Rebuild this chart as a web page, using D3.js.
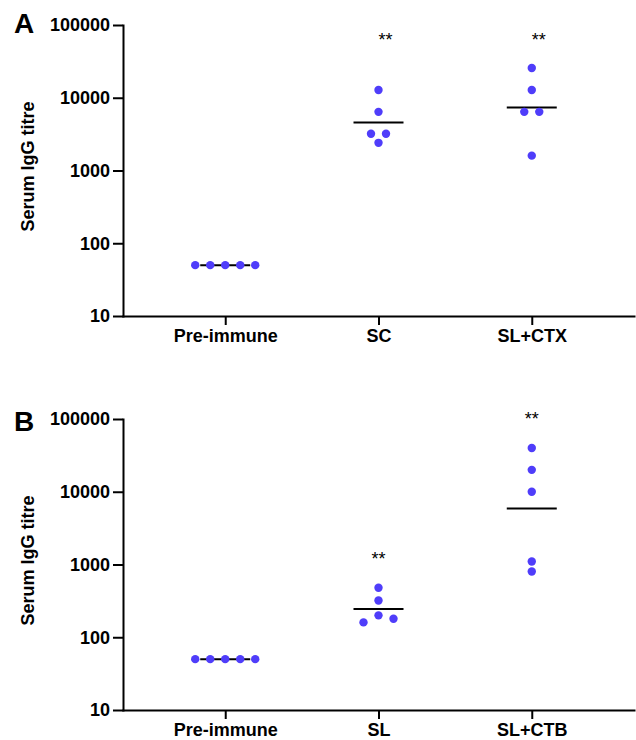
<!DOCTYPE html>
<html>
<head>
<meta charset="utf-8">
<script src="https://cdn.jsdelivr.net/npm/d3@7"></script>
<style>
  html, body { margin: 0; padding: 0; background: #fff; }
  svg { display: block; font-family: "Liberation Sans", Arial, Helvetica, sans-serif; }
</style>
</head>
<body>
<svg id="chart" width="636" height="740"></svg>
<script>
// Serum IgG titres per group (one value per animal)
const groupsA = ["Pre-immune", "SC", "SL+CTX"];
const preImmuneA = [50, 50, 50, 50, 50];
const scA = [12800, 6400, 3200, 3200, 2400];
const slCtxA = [25600, 12800, 6400, 6400, 1600];
const sigA = ["", "**", "**"];

const groupsB = ["Pre-immune", "SL", "SL+CTB"];
const preImmuneB = [50, 50, 50, 50, 50];
const slB = [480, 320, 160, 200, 180];
const slCtbB = [40000, 20000, 10000, 1100, 800];
const sigB = ["", "**", "**"];

const yTicks = [10, 100, 1000, 10000, 100000];
const yTitle = "Serum IgG titre";

const panels = [
  { letter: "A", groups: groupsA, values: [preImmuneA, scA, slCtxA], sig: sigA,
    top: 25, bottom: 316, letterY: 33, sigAligned: true, sigAnchor: "start" },
  { letter: "B", groups: groupsB, values: [preImmuneB, slB, slCtbB], sig: sigB,
    top: 419, bottom: 710, letterY: 431, sigAligned: false, sigAnchor: "middle" }
];

const left = 123, right = 634;
const dotR = 4.2, dotStep = 15, rowGap = 8.5, meanHalf = 25;
const dotColor = "#4f3dfa";

const svg = d3.select("#chart");

// Lay out points of one group: points closer than rowGap vertically share a row
// and are spread symmetrically around the group centre.
function swarm(vals, y) {
  const idx = d3.range(vals.length).sort((a, b) => d3.descending(vals[a], vals[b]) || a - b);
  const rows = [];
  idx.forEach(i => {
    const row = rows[rows.length - 1];
    if (row && Math.abs(y(vals[i]) - y(vals[row[0]])) < rowGap) row.push(i);
    else rows.push([i]);
  });
  const off = new Array(vals.length).fill(0);
  rows.forEach(row => {
    row.sort((a, b) => a - b);
    row.forEach((i, k) => { off[i] = (k - (row.length - 1) / 2) * dotStep; });
  });
  return vals.map((v, i) => ({ v, dx: off[i] }));
}

panels.forEach(p => {
  const y = d3.scaleLog().domain([10, 100000]).range([p.bottom, p.top]);
  const x = d3.scalePoint().domain(p.groups).range([left, right]).padding(0.667);

  const g = svg.append("g");

  // y axis
  const ya = g.append("g")
    .attr("transform", `translate(${left},0)`)
    .call(d3.axisLeft(y).tickValues(yTicks).tickFormat(d3.format("d"))
      .tickSize(10).tickSizeOuter(0).tickPadding(3));
  // x axis
  const xa = g.append("g")
    .attr("transform", `translate(0,${p.bottom})`)
    .call(d3.axisBottom(x).tickSize(9).tickSizeOuter(0).tickPadding(4));

  [ya, xa].forEach(a => {
    a.select(".domain").attr("stroke", "#000").attr("stroke-width", 2).attr("stroke-linecap", "square");
    a.selectAll(".tick line").attr("stroke", "#000").attr("stroke-width", 2);
    a.selectAll(".tick text").attr("fill", "#000")
      .style("font-size", "18px").style("font-weight", "bold")
      .style("font-family", "'Liberation Sans', Arial, sans-serif");
  });

  // axis title
  g.append("text")
    .attr("transform", `translate(34,${(p.top + p.bottom) / 2 - 4}) rotate(-90)`)
    .attr("text-anchor", "middle")
    .style("font-size", "18px").style("font-weight", "bold")
    .text(yTitle);

  // panel letter
  g.append("text")
    .attr("x", 14).attr("y", p.letterY)
    .style("font-size", "28px").style("font-weight", "bold")
    .text(p.letter);

  const topY = p.values.map(vs => y(d3.max(vs)));
  const sharedTop = d3.min(topY);

  p.groups.forEach((name, gi) => {
    const vals = p.values[gi];
    const cx = x(name);
    // geometric mean line
    const gm = Math.pow(10, d3.mean(vals, v => Math.log10(v)));
    g.append("line")
      .attr("x1", cx - meanHalf).attr("x2", cx + meanHalf)
      .attr("y1", y(gm)).attr("y2", y(gm))
      .attr("stroke", "#000").attr("stroke-width", 2);

    g.append("g").selectAll("circle")
      .data(swarm(vals, y))
      .join("circle")
      .attr("cx", d => cx + d.dx)
      .attr("cy", d => y(d.v))
      .attr("r", dotR)
      .attr("fill", dotColor);

    if (p.sig[gi]) {
      const base = (p.sigAligned ? sharedTop : topY[gi]) - 22.5;
      g.append("text")
        .attr("x", cx).attr("y", base)
        .attr("text-anchor", p.sigAnchor)
        .style("font-size", "18px")
        .text(p.sig[gi]);
    }
  });
});
</script>
</body>
</html>
